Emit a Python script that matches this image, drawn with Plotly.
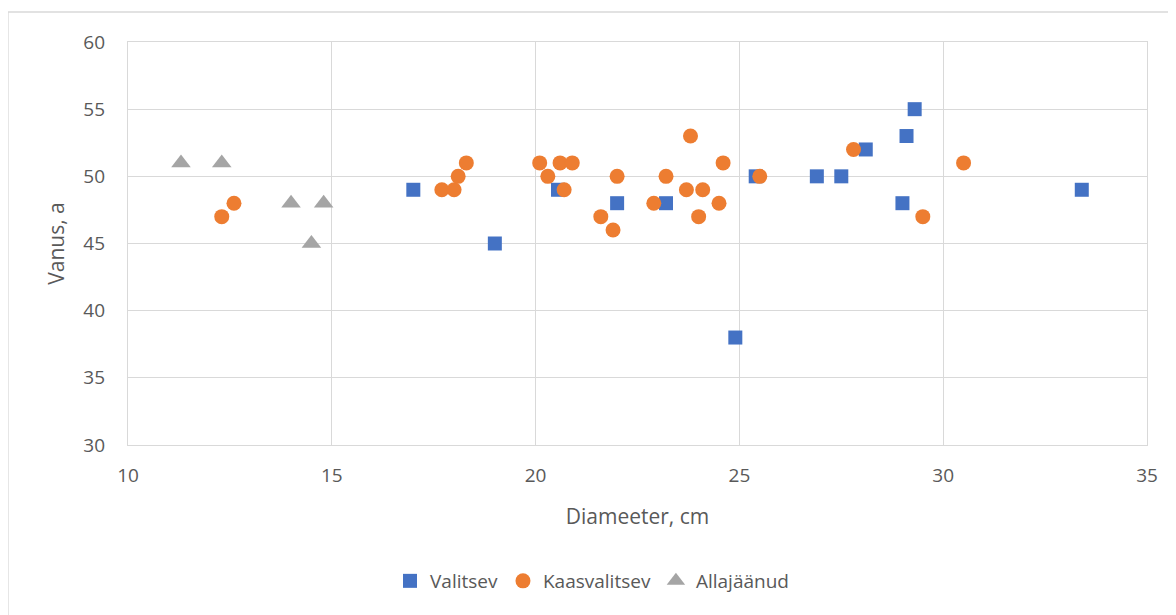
import plotly.graph_objects as go

# Data
valitsev_x = [17.0, 19.0, 20.55, 22.0, 23.2, 24.9, 25.4, 26.9, 27.5, 28.1, 29.0, 29.1, 29.3, 33.4]
valitsev_y = [49, 45, 49, 48, 48, 38, 50, 50, 50, 52, 48, 53, 55, 49]

kaas_x = [12.3, 12.6, 17.7, 18.0, 18.1, 18.3, 20.1, 20.3, 20.6, 20.7, 20.9, 21.6, 21.9, 22.0,
          22.9, 23.2, 23.7, 23.8, 24.0, 24.1, 24.5, 24.6, 25.5, 27.8, 29.5, 30.5]
kaas_y = [47, 48, 49, 49, 50, 51, 51, 50, 51, 49, 51, 47, 46, 50,
          48, 50, 49, 53, 47, 49, 48, 51, 50, 52, 47, 51]

alla_x = [11.3, 12.3, 14.0, 14.5, 14.8]
alla_y = [51, 51, 48, 45, 48]

x_ticks = [10, 15, 20, 25, 30, 35]
y_ticks = [30, 35, 40, 45, 50, 55, 60]

FONT = "Open Sans"
TXT = "#595959"
GRID = "#D9D9D9"

fig = go.Figure()
fig.add_trace(go.Scatter(x=valitsev_x, y=valitsev_y, mode="markers", name="Valitsev",
                         marker=dict(symbol="square", size=14, color="#4472C4")))
fig.add_trace(go.Scatter(x=kaas_x, y=kaas_y, mode="markers", name="Kaasvalitsev",
                         marker=dict(symbol="circle", size=15, color="#ED7D31")))
fig.add_trace(go.Scatter(x=alla_x, y=alla_y, mode="markers", name="Allajäänud",
                         marker=dict(symbol="triangle-up", size=17, color="#A5A5A5")))

OFF = 8  # page body margin offset
W, H = 1176, 615
L, R, T, B = 128 - OFF, 1147 - OFF, 42 - OFF, 445 - OFF
pw, ph = R - L, B - T

def px(x):
    return (x - OFF - L) / pw

def py(y):
    return (B - (y - OFF)) / ph

fig.update_layout(
    width=W, height=H,
    margin=dict(l=L, r=W - R, t=T, b=H - B),
    paper_bgcolor="white", plot_bgcolor="white",
    font=dict(family=FONT, size=18, color=TXT),
    showlegend=True,
    legend=dict(orientation="h", x=px(592), xanchor="center", y=py(581), yanchor="middle",
                font=dict(size=19, color=TXT), tracegroupgap=0),
    xaxis=dict(range=[10, 35], tickvals=x_ticks, showgrid=True, gridcolor=GRID,
               gridwidth=1.3, zeroline=False, showline=True, linecolor=GRID, linewidth=1.3,
               mirror=True, ticks="", tickfont=dict(size=19, color=TXT), ticklabelstandoff=13,
               title=dict(text="Diameeter, cm", font=dict(size=21, color=TXT), standoff=22)),
    yaxis=dict(range=[30, 60], tickvals=y_ticks, showgrid=True, gridcolor=GRID,
               gridwidth=1.3, zeroline=False, showline=True, linecolor=GRID, linewidth=1.3,
               mirror=True, ticks="", tickfont=dict(size=19, color=TXT), ticklabelstandoff=18,
               title=dict(text="Vanus, a", font=dict(size=21, color=TXT), standoff=12)),
    shapes=[dict(type="rect", xref="paper", yref="paper",
                 x0=px(8), x1=px(1200), y0=py(12), y1=py(640),
                 line=dict(color=GRID, width=1.3), fillcolor="rgba(0,0,0,0)")],
)

fig.write_html("out.html")
